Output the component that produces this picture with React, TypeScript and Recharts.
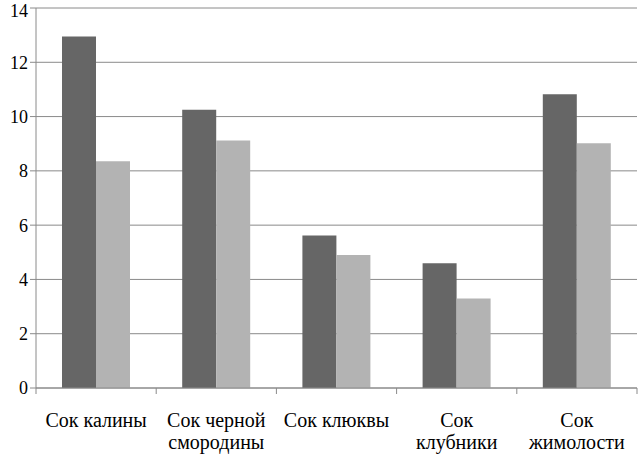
import { BarChart, Bar, XAxis, YAxis, CartesianGrid } from "recharts";

// Categories (line breaks as in the original figure)
const categories = [
  "Сок калины",
  "Сок черной\nсмородины",
  "Сок клюквы",
  "Сок\nклубники",
  "Сок\nжимолости",
];

const darkValues = [12.95, 10.25, 5.62, 4.6, 10.82];
const lightValues = [8.35, 9.12, 4.9, 3.3, 9.02];

const yTicks = [0, 2, 4, 6, 8, 10, 12, 14];

const data = categories.map((name, i) => ({
  name,
  dark: darkValues[i],
  light: lightValues[i],
}));

const WIDTH = 640;
const HEIGHT = 455;
const LEFT = 36;
const RIGHT = 3;
const BAND = (WIDTH - LEFT - RIGHT) / categories.length;
const GRID = "#8a8a8a";
const FONT = "'Times New Roman', Times, 'Liberation Serif', Tinos, 'Noto Serif', 'DejaVu Serif', serif";

// x-axis tick: label lines plus boundary tick marks
const CategoryTick = (props: any) => {
  const { x, y, payload, index } = props;
  const lines = String(payload.value).split("\n");
  return (
    <g>
      <line x1={x - BAND / 2} y1={y} x2={x - BAND / 2} y2={y + 6} stroke={GRID} />
      {index === categories.length - 1 && (
        <line x1={x + BAND / 2} y1={y} x2={x + BAND / 2} y2={y + 6} stroke={GRID} />
      )}
      <text x={x} y={y + 39} textAnchor="middle" fill="#000" fontSize={20} fontFamily={FONT}>
        {lines.map((l, i) => (
          <tspan key={i} x={x} dy={i === 0 ? 0 : 22}>
            {l}
          </tspan>
        ))}
      </text>
    </g>
  );
};

export default function App() {
  return (
    <div style={{ position: "absolute", left: 0, top: 0, background: "#fff" }}>
      <BarChart
        width={WIDTH}
        height={HEIGHT}
        data={data}
        margin={{ top: 8, right: RIGHT, left: 0, bottom: 0 }}
        barGap={0}
        barSize={34}
      >
        <CartesianGrid vertical={false} stroke={GRID} />
        <XAxis
          dataKey="name"
          interval={0}
          height={67}
          tickSize={0}
          tickMargin={0}
          tickLine={false}
          axisLine={{ stroke: GRID }}
          tick={<CategoryTick />}
        />
        <YAxis
          domain={[0, 14]}
          ticks={yTicks}
          width={LEFT}
          tickSize={6}
          tickMargin={2}
          axisLine={{ stroke: GRID }}
          tickLine={{ stroke: GRID }}
          tick={{ fontSize: 18, fill: "#000", fontFamily: FONT }}
        />
        <Bar dataKey="dark" fill="#666666" isAnimationActive={false} />
        <Bar dataKey="light" fill="#b3b3b3" isAnimationActive={false} />
      </BarChart>
    </div>
  );
}
